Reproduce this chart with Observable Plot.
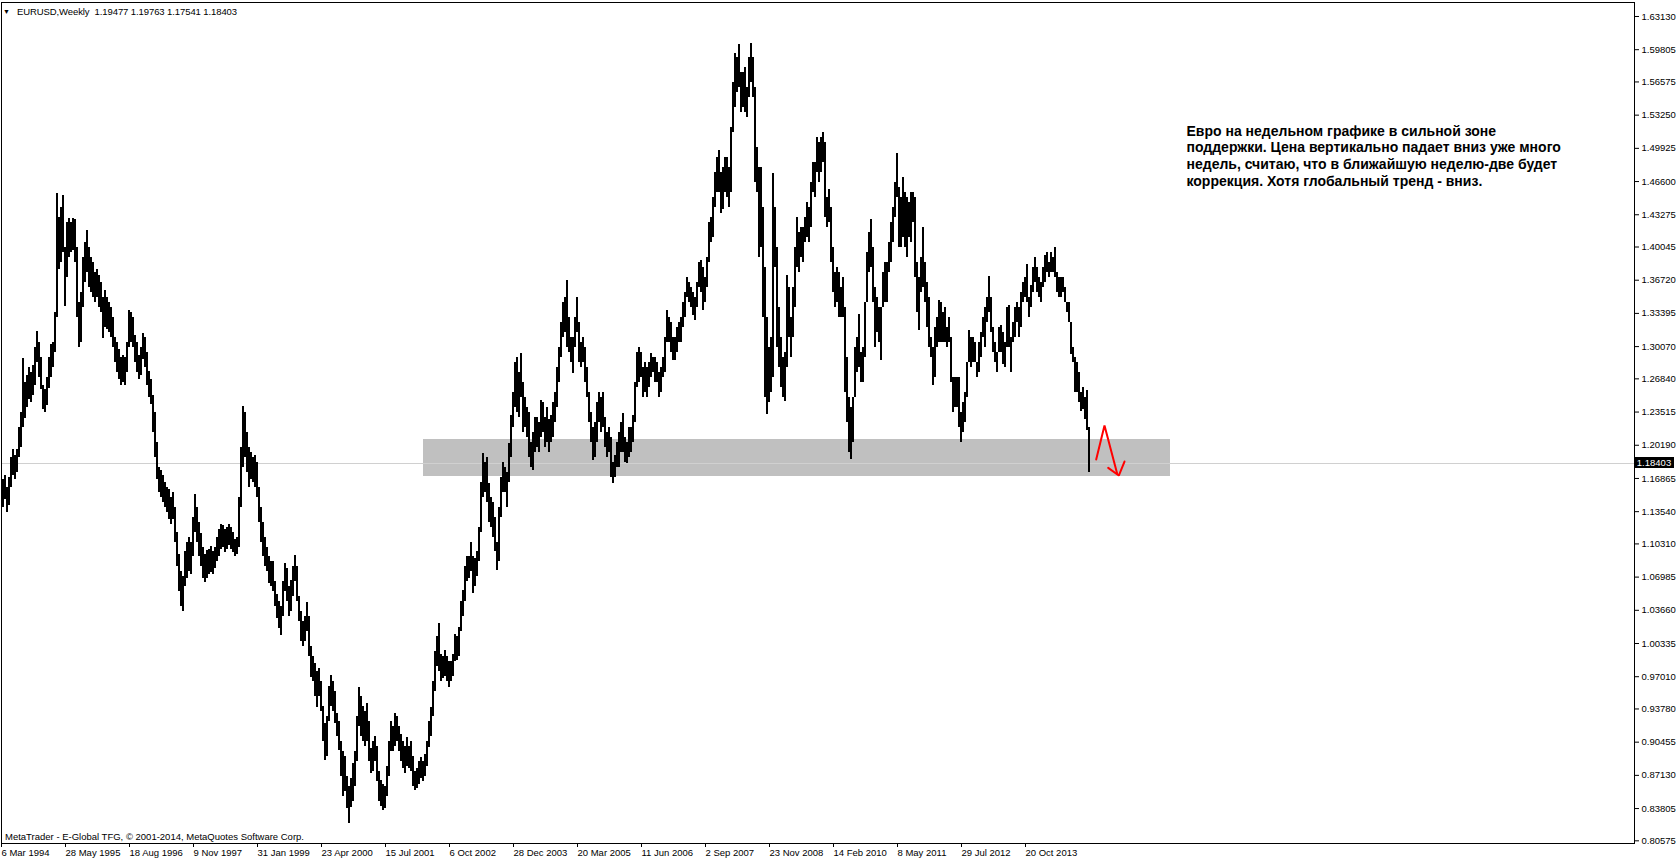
<!DOCTYPE html>
<html>
<head>
<meta charset="utf-8">
<script src="https://cdn.jsdelivr.net/npm/d3@7"></script>
<script src="https://cdn.jsdelivr.net/npm/@observablehq/plot@0.6"></script>
<style>
  html, body { margin: 0; padding: 0; background: #fff; overflow: hidden; }
  #wrap { position: relative; width: 1676px; height: 861px; font-family: "Liberation Sans", Arial, sans-serif; }
  .ov { position: absolute; white-space: pre; color: #000; line-height: 1; }
</style>
</head>
<body>
<div id="wrap"></div>
<script>
// ---- data (EURUSD weekly, 2-week bars; index 0 = week of 6 Mar 1994) ----
const symbol = "EURUSD,Weekly";
const lastOHLC = [1.19477, 1.19763, 1.17541, 1.18403];
const lastClose = 1.18403;

const lows = [
1.140,1.148,1.135,1.142,1.160,1.172,1.168,1.175,1.190,1.200,
1.220,1.229,1.240,1.248,1.245,1.252,1.262,1.285,1.270,1.258,
1.238,1.235,1.242,1.259,1.270,1.280,1.295,1.330,1.378,1.385,
1.395,1.341,1.370,1.390,1.395,1.397,1.385,1.330,1.300,1.305,
1.340,1.365,1.375,1.360,1.355,1.350,1.345,1.350,1.340,1.335,
1.309,1.320,1.318,1.315,1.310,1.300,1.285,1.275,1.268,1.262,
1.265,1.262,1.275,1.300,1.305,1.300,1.285,1.275,1.268,1.272,
1.288,1.280,1.262,1.250,1.243,1.215,1.190,1.168,1.155,1.150,
1.145,1.140,1.135,1.128,1.123,1.128,1.105,1.080,1.055,1.040,
1.035,1.060,1.068,1.075,1.072,1.090,1.115,1.105,1.090,1.080,
1.068,1.064,1.068,1.072,1.074,1.072,1.078,1.085,1.090,1.098,
1.100,1.094,1.098,1.102,1.098,1.094,1.090,1.092,1.100,1.140,
1.180,1.190,1.175,1.160,1.168,1.165,1.160,1.150,1.125,1.105,
1.090,1.080,1.075,1.063,1.060,1.055,1.040,1.028,1.018,1.011,
1.030,1.055,1.045,1.030,1.035,1.050,1.065,1.045,1.025,1.005,
1.000,1.005,1.015,0.990,0.969,0.965,0.950,0.939,0.950,0.935,
0.905,0.886,0.890,0.925,0.940,0.935,0.923,0.910,0.896,0.870,
0.850,0.855,0.838,0.823,0.839,0.845,0.860,0.885,0.920,0.910,
0.905,0.900,0.905,0.885,0.873,0.875,0.885,0.865,0.845,0.840,
0.836,0.838,0.850,0.870,0.895,0.895,0.900,0.905,0.895,0.885,
0.878,0.873,0.880,0.878,0.875,0.860,0.856,0.858,0.862,0.868,
0.865,0.870,0.880,0.899,0.910,0.930,0.955,0.980,0.975,0.965,
0.968,0.970,0.965,0.959,0.965,0.970,0.985,0.986,0.990,1.015,
1.030,1.045,1.065,1.068,1.075,1.053,1.060,1.070,1.085,1.115,
1.150,1.155,1.145,1.125,1.120,1.110,1.095,1.076,1.085,1.130,
1.155,1.155,1.140,1.165,1.190,1.220,1.240,1.235,1.230,1.250,
1.215,1.220,1.210,1.190,1.180,1.177,1.195,1.200,1.195,1.210,
1.215,1.200,1.205,1.195,1.205,1.210,1.225,1.240,1.265,1.290,
1.310,1.315,1.300,1.295,1.285,1.274,1.300,1.315,1.285,1.280,
1.285,1.265,1.250,1.225,1.205,1.187,1.190,1.205,1.225,1.215,
1.220,1.200,1.190,1.195,1.170,1.164,1.170,1.180,1.180,1.195,
1.195,1.185,1.184,1.190,1.195,1.205,1.225,1.260,1.265,1.270,
1.250,1.255,1.250,1.260,1.270,1.275,1.265,1.265,1.250,1.255,
1.270,1.275,1.305,1.305,1.295,1.287,1.287,1.295,1.305,1.305,
1.320,1.330,1.350,1.345,1.340,1.332,1.327,1.340,1.360,1.355,
1.337,1.345,1.360,1.385,1.405,1.410,1.440,1.455,1.455,1.434,
1.438,1.455,1.450,1.440,1.455,1.515,1.540,1.555,1.560,1.535,
1.540,1.535,1.530,1.550,1.565,1.550,1.465,1.455,1.390,1.400,
1.330,1.250,1.233,1.245,1.255,1.270,1.380,1.300,1.280,1.260,
1.250,1.246,1.280,1.310,1.290,1.310,1.340,1.380,1.375,1.390,
1.385,1.405,1.410,1.405,1.420,1.455,1.450,1.475,1.465,1.475,
1.485,1.430,1.420,1.425,1.385,1.355,1.340,1.345,1.330,1.330,
1.330,1.255,1.225,1.195,1.188,1.205,1.250,1.275,1.280,1.265,
1.265,1.290,1.345,1.375,1.380,1.345,1.300,1.315,1.305,1.287,
1.340,1.345,1.345,1.375,1.385,1.405,1.430,1.450,1.400,1.400,
1.410,1.400,1.390,1.410,1.405,1.425,1.370,1.335,1.317,1.355,
1.360,1.345,1.320,1.300,1.290,1.262,1.270,1.300,1.305,1.305,
1.305,1.305,1.300,1.305,1.265,1.235,1.240,1.240,1.220,1.205,
1.215,1.225,1.250,1.285,1.280,1.285,1.285,1.270,1.275,1.290,
1.310,1.300,1.325,1.335,1.315,1.295,1.285,1.275,1.295,1.295,
1.283,1.280,1.300,1.300,1.275,1.305,1.310,1.325,1.310,1.320,
1.345,1.350,1.345,1.330,1.340,1.355,1.365,1.355,1.350,1.345,
1.360,1.365,1.375,1.370,1.375,1.375,1.370,1.355,1.350,1.350,
1.355,1.345,1.335,1.325,1.293,1.285,1.255,1.255,1.245,1.236,
1.238,1.228,1.217,1.175
];

const highs = [
1.168,1.172,1.160,1.170,1.190,1.198,1.192,1.198,1.220,1.235,
1.289,1.265,1.272,1.280,1.275,1.282,1.300,1.316,1.305,1.290,
1.262,1.258,1.270,1.290,1.303,1.305,1.335,1.454,1.430,1.440,
1.452,1.400,1.425,1.429,1.425,1.429,1.428,1.400,1.345,1.355,
1.390,1.405,1.417,1.400,1.390,1.385,1.375,1.378,1.372,1.365,
1.350,1.357,1.350,1.345,1.340,1.330,1.310,1.305,1.298,1.290,
1.292,1.290,1.305,1.337,1.335,1.330,1.312,1.305,1.292,1.300,
1.314,1.310,1.295,1.276,1.268,1.252,1.235,1.205,1.180,1.177,
1.172,1.165,1.160,1.158,1.150,1.155,1.140,1.115,1.092,1.075,
1.070,1.095,1.105,1.110,1.105,1.130,1.153,1.140,1.125,1.114,
1.100,1.092,1.096,1.098,1.101,1.095,1.100,1.110,1.118,1.123,
1.122,1.118,1.120,1.123,1.120,1.115,1.108,1.110,1.150,1.200,
1.241,1.235,1.215,1.200,1.195,1.190,1.192,1.185,1.160,1.140,
1.125,1.110,1.100,1.090,1.085,1.085,1.065,1.052,1.045,1.040,
1.065,1.083,1.078,1.060,1.066,1.080,1.091,1.080,1.050,1.035,
1.025,1.030,1.044,1.030,1.000,0.990,0.983,0.975,0.978,0.965,
0.940,0.923,0.930,0.960,0.971,0.965,0.955,0.933,0.925,0.905,
0.895,0.890,0.870,0.860,0.868,0.883,0.895,0.930,0.959,0.950,
0.940,0.935,0.943,0.925,0.898,0.905,0.910,0.900,0.875,0.866,
0.862,0.860,0.880,0.905,0.925,0.920,0.933,0.930,0.920,0.912,
0.905,0.900,0.909,0.900,0.905,0.890,0.875,0.878,0.885,0.889,
0.885,0.892,0.905,0.925,0.939,0.965,0.995,1.010,1.023,0.992,
0.990,0.996,0.990,0.985,0.985,0.992,1.012,1.010,1.019,1.045,
1.056,1.080,1.090,1.090,1.105,1.090,1.088,1.095,1.120,1.165,
1.194,1.185,1.190,1.164,1.150,1.145,1.130,1.105,1.140,1.170,
1.185,1.180,1.175,1.204,1.232,1.255,1.285,1.290,1.275,1.294,
1.265,1.250,1.240,1.235,1.205,1.215,1.230,1.230,1.225,1.247,
1.245,1.230,1.240,1.228,1.232,1.245,1.255,1.280,1.300,1.325,
1.345,1.350,1.367,1.330,1.310,1.310,1.330,1.350,1.325,1.305,
1.310,1.300,1.280,1.255,1.235,1.220,1.225,1.245,1.255,1.250,
1.255,1.230,1.215,1.220,1.210,1.185,1.192,1.205,1.215,1.225,
1.234,1.210,1.205,1.220,1.220,1.232,1.265,1.295,1.300,1.295,
1.280,1.285,1.280,1.285,1.294,1.290,1.290,1.285,1.275,1.280,
1.290,1.310,1.337,1.330,1.325,1.310,1.310,1.320,1.325,1.330,
1.345,1.355,1.370,1.365,1.360,1.355,1.350,1.365,1.385,1.387,
1.380,1.370,1.390,1.425,1.430,1.450,1.475,1.490,1.497,1.475,
1.480,1.490,1.490,1.480,1.520,1.565,1.594,1.590,1.603,1.575,
1.575,1.580,1.560,1.590,1.604,1.590,1.560,1.500,1.480,1.480,
1.440,1.380,1.330,1.300,1.310,1.474,1.440,1.400,1.340,1.310,
1.290,1.295,1.372,1.360,1.330,1.360,1.400,1.430,1.415,1.420,
1.420,1.430,1.445,1.440,1.465,1.485,1.485,1.510,1.505,1.510,
1.515,1.505,1.450,1.458,1.440,1.400,1.375,1.380,1.375,1.360,
1.370,1.340,1.290,1.250,1.240,1.250,1.300,1.310,1.333,1.295,
1.300,1.345,1.395,1.415,1.428,1.400,1.360,1.350,1.340,1.340,
1.375,1.385,1.385,1.405,1.425,1.440,1.465,1.494,1.460,1.450,
1.470,1.455,1.450,1.445,1.455,1.455,1.450,1.385,1.370,1.390,
1.420,1.385,1.365,1.350,1.310,1.300,1.320,1.330,1.347,1.345,
1.335,1.340,1.320,1.330,1.310,1.270,1.270,1.270,1.270,1.235,
1.245,1.255,1.285,1.317,1.310,1.310,1.305,1.285,1.305,1.315,
1.330,1.340,1.350,1.371,1.350,1.320,1.305,1.295,1.320,1.322,
1.315,1.305,1.340,1.342,1.310,1.325,1.340,1.345,1.340,1.355,
1.365,1.370,1.383,1.350,1.362,1.380,1.390,1.380,1.370,1.365,
1.380,1.392,1.395,1.385,1.395,1.390,1.400,1.375,1.370,1.370,
1.370,1.360,1.345,1.345,1.325,1.300,1.290,1.285,1.275,1.255,
1.260,1.250,1.257,1.220
];

// price-axis labels and date-axis labels
const priceTicks = [1.63130,1.59805,1.56575,1.53250,1.49925,1.46600,1.43275,1.40045,1.36720,1.33395,1.30070,1.26840,1.23515,1.20190,1.16865,1.13540,1.10310,1.06985,1.03660,1.00335,0.97010,0.93780,0.90455,0.87130,0.83805,0.80575];
const dateTickWeeks = [0,64,128,192,256,320,384,448,512,576,640,704,768,832,896,960,1024];
const dateTickLabels = ["6 Mar 1994","28 May 1995","18 Aug 1996","9 Nov 1997","31 Jan 1999","23 Apr 2000","15 Jul 2001","6 Oct 2002","28 Dec 2003","20 Mar 2005","11 Jun 2006","2 Sep 2007","23 Nov 2008","14 Feb 2010","8 May 2011","29 Jul 2012","20 Oct 2013"];

// user objects: support zone (weeks, prices), red arrow (weeks, prices), note
const zoneWeeks = [421, 1168];
const zonePrices = [1.1706, 1.2077];
const arrowWeeks = [1093.7, 1102, 1114.7];
const arrowPrices = [1.1876, 1.2217, 1.1733];
const headWeeks = [1105.7, 1116.3, 1122];
const headPrices = [1.1793, 1.1716, 1.1856];
const noteLines = [
  "Евро на недельном графике в сильной зоне",
  "поддержки. Цена вертикально падает вниз уже много",
  "недель, считаю, что в ближайшую неделю-две будет",
  "коррекция. Хотя глобальный тренд - вниз."
];
const noteAnchor = {week: 1184, price: 1.5238};
const copyright = "MetaTrader - E-Global TFG, © 2001-2014, MetaQuotes Software Corp.";

// ---- build ----
const bars = lows.map((lo, j) => ({start: 2 * j, end: 2 * j + 2, lo, hi: highs[j]}));
const zone = [{x1: zoneWeeks[0], x2: zoneWeeks[1], y1: zonePrices[0], y2: zonePrices[1]}];
const arrow = arrowWeeks.map((w, i) => ({w, p: arrowPrices[i]}));
const head = headWeeks.map((w, i) => ({w, p: headPrices[i]}));
const labelByWeek = new Map(dateTickWeeks.map((w, i) => [w, dateTickLabels[i]]));
const FONT = "'Liberation Sans', Arial, sans-serif";

const chart = Plot.plot({
  width: 1676,
  height: 861,
  marginLeft: 1,
  marginRight: 42,
  marginTop: 2,
  marginBottom: 18,
  style: {background: "#fff", color: "#000", fontFamily: FONT, fontSize: "9.5px"},
  x: {type: "linear", domain: [-1, 1632]},
  y: {domain: [0.80306, 1.64532]},
  marks: [
    Plot.rect(zone, {x1: "x1", x2: "x2", y1: "y1", y2: "y2", fill: "#c0c0c0", shapeRendering: "crispEdges"}),
    Plot.ruleY([lastClose], {stroke: "#d0d0d0", strokeWidth: 1, shapeRendering: "crispEdges"}),
    Plot.rect(bars, {x1: "start", x2: "end", y1: "lo", y2: "hi", fill: "#000", shapeRendering: "crispEdges"}),
    Plot.line(arrow, {x: "w", y: "p", stroke: "#ff0000", strokeWidth: 2, strokeLinejoin: "miter"}),
    Plot.line(head, {x: "w", y: "p", stroke: "#ff0000", strokeWidth: 2, strokeLinejoin: "miter"}),
    Plot.text([noteLines.join("\n")], {
      x: () => noteAnchor.week, y: () => noteAnchor.price, text: d => d,
      textAnchor: "start", lineAnchor: "top", lineHeight: 1.19,
      fontSize: 14, fontWeight: "bold", fontFamily: FONT, fill: "#000"
    }),
    Plot.frame({stroke: "#000", shapeRendering: "crispEdges"}),
    Plot.axisY(priceTicks, {
      anchor: "right", tickSize: 4, tickPadding: 3, label: null,
      tickFormat: d => d.toFixed(5), fontSize: 9.5, fontFamily: FONT
    }),
    Plot.axisX(dateTickWeeks, {
      anchor: "bottom", tickSize: 4, tickPadding: 2, label: null,
      textAnchor: "start", dx: -1,
      tickFormat: d => labelByWeek.get(d), fontSize: 9.5, fontFamily: FONT
    })
  ]
});

const wrap = document.getElementById("wrap");
chart.style.position = "absolute";
chart.style.left = "0px";
chart.style.top = "0px";
wrap.appendChild(chart);

// header (chart title line)
const tri = document.createElement("div");
tri.className = "ov";
tri.style.cssText += "left:3px;top:8px;font-size:7px;";
tri.textContent = "▼";
wrap.appendChild(tri);

const head1 = document.createElement("div");
head1.className = "ov";
head1.style.cssText += "left:17px;top:6.5px;font-size:9.5px;";
head1.textContent = symbol + "  " + lastOHLC.map(v => v.toFixed(5)).join(" ");
wrap.appendChild(head1);
// fit header to the reference's run length (it ends near x = 237)
{
  const natural = head1.getBoundingClientRect().width;
  const target = 220;
  const n = head1.textContent.length;
  head1.style.letterSpacing = ((target - natural) / n) + "px";
}

// copyright line
const cp = document.createElement("div");
cp.className = "ov";
cp.style.cssText += "left:5px;top:832px;font-size:9.5px;";
cp.textContent = copyright;
wrap.appendChild(cp);

// current price box on the price axis
const yScale = chart.scale("y");
const py = yScale.apply(lastClose);
const box = document.createElement("div");
box.className = "ov";
box.style.cssText += `left:1634px;top:${py - 5.5}px;width:40px;height:11px;background:#000;color:#fff;font-size:9.5px;line-height:11px;text-align:center;`;
box.textContent = lastClose.toFixed(5);
wrap.appendChild(box);
</script>
</body>
</html>
